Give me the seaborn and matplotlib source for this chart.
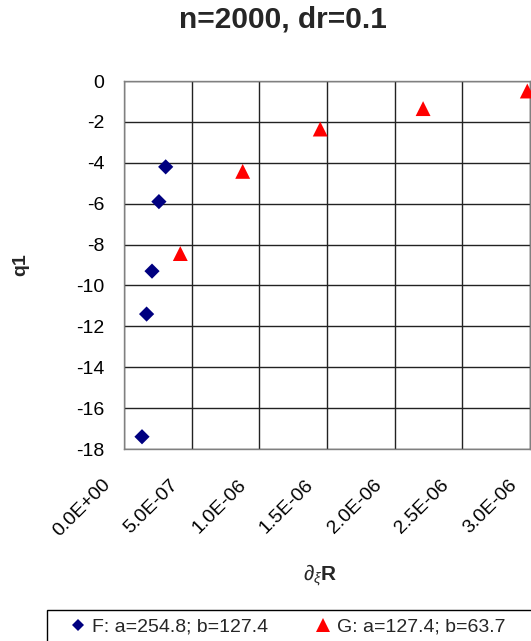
import numpy as np
import pandas as pd
import matplotlib
matplotlib.use("Agg")
import matplotlib.pyplot as plt
from matplotlib.transforms import ScaledTranslation
from matplotlib.lines import Line2D
from matplotlib.patches import Rectangle
import seaborn as sns

# ---- data ----
f_x = [3.08e-7, 2.58e-7, 2.07e-7, 1.67e-7, 1.33e-7]
f_y = [-4.2, -5.9, -9.3, -11.4, -17.4]
g_x = [4.16e-7, 8.77e-7, 1.45e-6, 2.21e-6, 2.98e-6]
g_y = [-8.44, -4.42, -2.35, -1.35, -0.49]
series_labels = ["F: a=254.8; b=127.4", "G: a=127.4; b=63.7"]
x_ticks = [0.0, 5e-7, 1e-6, 1.5e-6, 2e-6, 2.5e-6, 3e-6]
x_tick_labels = ["0.0E+00", "5.0E-07", "1.0E-06", "1.5E-06", "2.0E-06", "2.5E-06", "3.0E-06"]
y_ticks = [0, -2, -4, -6, -8, -10, -12, -14, -16, -18]

df = pd.DataFrame({
    "x": f_x + g_x,
    "y": f_y + g_y,
    "series": ["F"] * len(f_x) + ["G"] * len(g_x),
})

sns.set_theme(style="white")
plt.rcParams["font.family"] = ["Liberation Sans", "DejaVu Sans"]
plt.rcParams["mathtext.fontset"] = "custom"
plt.rcParams["mathtext.rm"] = "Liberation Sans"
plt.rcParams["mathtext.it"] = "Liberation Sans:italic"
plt.rcParams["mathtext.bf"] = "Liberation Sans:bold"

W, H = 531, 641
fig = plt.figure(figsize=(W / 100, H / 100), dpi=100)
ax = fig.add_axes([124 / W, 1 - 449 / H, (530 - 124) / W, (449 - 81) / H])

colors = {"F": "#000080", "G": "#FF0000"}
markers = {"F": "D", "G": "^"}
sns.scatterplot(data=df, x="x", y="y", hue="series", style="series", size="series",
                palette=colors, markers=markers, sizes={"F": 60, "G": 115},
                linewidth=0, legend=False, ax=ax, zorder=3, clip_on=False)

ax.set_xlim(0, 3e-6)
ax.set_ylim(-18, 0)
ax.set_xticks(x_ticks)
ax.set_xticklabels(x_tick_labels)
ax.set_yticks(y_ticks)
ax.set_yticklabels([str(v) for v in y_ticks])
ax.grid(True, color="#222222", linewidth=1.0)
ax.set_axisbelow(True)
for sp in ax.spines.values():
    sp.set_color("#808080")
    sp.set_linewidth(1.0)
ax.tick_params(axis="both", length=0, labelsize=14, colors="black")
ax.tick_params(axis="y", pad=14)
ax.tick_params(axis="x", pad=0)

for lab in ax.get_xticklabels():
    lab.set_rotation(45)
    lab.set_ha("right")
    lab.set_va("top")
    lab.set_rotation_mode("anchor")
    lab.set_transform(lab.get_transform() + ScaledTranslation(-22 / 100, -27 / 100, fig.dpi_scale_trans))

ax.set_xlabel("")
ax.set_ylabel("")
fig.text(21 / W, 1 - 265 / H, "q1", rotation=90, fontsize=14, fontweight="bold",
         ha="center", va="center")
fig.text(320 / W, 1 - 575 / H, r"$\partial_{\xi}\mathbf{R}$", fontsize=15,
         ha="center", va="center")
fig.text(283 / W, 1 - 20 / H, "n=2000, dr=0.1", fontsize=21.5, fontweight="bold",
         ha="center", va="center")

# legend frame (extends past the right edge like the reference)
fig.patches.append(Rectangle((47 / W, 1 - 680 / H), 520 / W, 70 / H,
                             transform=fig.transFigure, fill=False,
                             edgecolor="black", linewidth=1.0))
handles = [
    Line2D([], [], linestyle="none", marker="D", color=colors["F"], markersize=6.5, markeredgewidth=0),
    Line2D([], [], linestyle="none", marker="^", color=colors["G"], markersize=9.5, markeredgewidth=0),
]
leg = fig.legend(handles, series_labels, ncol=2, loc="center left",
                 bbox_to_anchor=(68 / W, 1 - 627 / H), fontsize=14,
                 frameon=False, handlelength=1.0, handletextpad=0.22,
                 columnspacing=2.35, borderpad=0, borderaxespad=0)

fig.savefig("out.png", dpi=100)
